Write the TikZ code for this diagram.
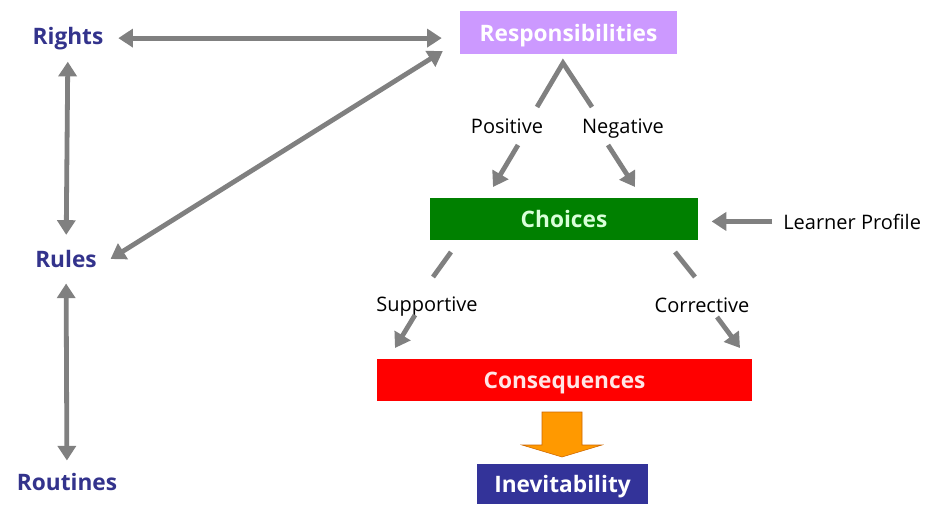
\documentclass[tikz,border=0pt]{standalone}
\usepackage{fontspec}
\setmainfont{Open Sans}
\usetikzlibrary{arrows.meta}
\definecolor{arrgray}{RGB}{128,128,128}
\definecolor{sideblue}{RGB}{51,51,140}
\definecolor{resplilac}{RGB}{204,153,255}
\definecolor{choicegreen}{RGB}{0,128,0}
\definecolor{conseqred}{RGB}{255,0,0}
\definecolor{inevblue}{RGB}{51,51,153}
\definecolor{arrorange}{RGB}{255,153,0}
\begin{document}
\begin{tikzpicture}[x=0.75pt, y=-0.75pt,
    >={Triangle[width=13.5pt,length=11pt]},
    arr/.style={draw=arrgray, line width=3.6pt},
    side/.style={font=\fontsize{17}{20}\selectfont\bfseries, text=sideblue, inner sep=0pt, anchor=base},
    box/.style={font=\fontsize{17}{20}\selectfont\bfseries, inner sep=0pt, text depth=0pt, minimum height=31.5pt},
    lbl/.style={font=\fontsize{15}{18}\selectfont, inner sep=0pt, anchor=base}]
  \useasboundingbox (0,0) rectangle (927,504);
  % Nodes
  \node[side] at (68, 44) (rights) {Rights};
  \node[side] at (66, 267) (rules) {Rules};
  \node[side] at (67, 490) (routines) {Routines};
  \node[box, fill=resplilac, text=white, minimum width=162.75pt, minimum height=32.25pt] at (568.5, 32.5) (resp) {Responsibilities};
  \node[box, fill=choicegreen, text=green!15!white, minimum width=201pt] at (564, 219) (choices) {Choices};
  \node[box, fill=conseqred, text=red!10!white, minimum width=281.25pt] at (564.5, 380) (conseq) {Consequences};
  \node[box, fill=inevblue, text=white, minimum width=128.25pt, minimum height=30pt] at (562.5, 484) (inev) {Inevitability};
  \node[lbl, anchor=base west] at (783, 229) (learner) {Learner Profile};
  \node[lbl] at (507, 133) (pos) {Positive};
  \node[lbl] at (623, 133) (neg) {Negative};
  \node[lbl] at (427, 311) (supp) {Supportive};
  \node[lbl] at (702, 312) (corr) {Corrective};

  % Free ends of the split arrows
  \coordinate (apex) at (563, 63);
  \coordinate (pa) at (537, 107);  \coordinate (pb) at (518, 145);  \coordinate (pc) at (493, 187);
  \coordinate (na) at (592, 107);  \coordinate (nb) at (608, 145);  \coordinate (nc) at (635, 187);
  \coordinate (sa) at (451, 252);  \coordinate (sb) at (433, 277);
  \coordinate (sc) at (415, 315);  \coordinate (sd) at (395, 348);
  \coordinate (ca) at (675, 252);  \coordinate (cb) at (695, 277);
  \coordinate (cc) at (717, 317);  \coordinate (cd) at (740, 348);

  % Arrows on the left
  \draw[arr, <->, shorten <=11pt, shorten >=13.5pt] (rights.east) -- (rights.east -| resp.west);
  \draw[arr, <->, shorten <=9pt, shorten >=11pt] (rights) -- (rules);
  \draw[arr, <->, shorten <=12pt, shorten >=15pt] (rules.south east) -- ([yshift=-6pt]resp.west);
  \draw[arr, <->, shorten <=12pt, shorten >=9pt] (rules) -- (routines);

  % Arrows in the middle
  \draw[arr, line join=miter] (pa) -- (apex) -- (na);
  \draw[arr, ->] (pb) -- (pc);
  \draw[arr, ->] (nb) -- (nc);
  \draw[arr] (sa) -- (sb);
  \draw[arr, ->] (sc) -- (sd);
  \draw[arr] (ca) -- (cb);
  \draw[arr, ->] (cc) -- (cd);
  \draw[arr, ->, shorten <=8pt, shorten >=10pt] (learner.west) -- (learner.west -| choices.east);

  % Block arrow
  \draw[draw=orange!80!black, fill=arrorange] (542,412) -- (582,412) -- (582,445) -- (602,445)
    -- (562,457) -- (522,445) -- (542,445) -- cycle;
\end{tikzpicture}
\end{document}
